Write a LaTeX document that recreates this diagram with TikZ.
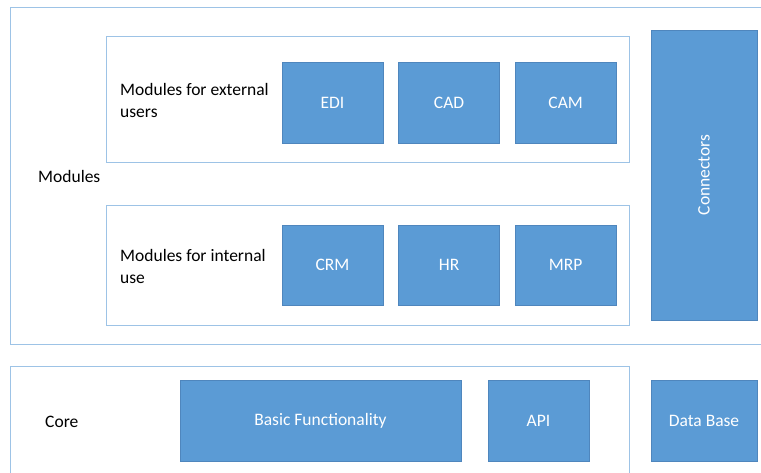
\documentclass[tikz,border=0pt]{standalone}
\usepackage{fontspec}
\setmainfont{Carlito}
\usepackage{xcolor}
\usetikzlibrary{positioning}
\definecolor{fillblue}{HTML}{5B9BD5}
\definecolor{edgeblue}{HTML}{4F86BD}
\definecolor{framelin}{HTML}{9DC3E6}
\tikzset{
  frame/.style={draw=framelin, line width=1pt},
  mod/.style={draw=edgeblue, fill=fillblue, line width=0.6pt, text=white,
    font=\fontsize{17.5}{20}\selectfont, minimum width=101pt, minimum height=81pt, inner sep=0pt},
  lab/.style={text=black, font=\fontsize{17.5}{22}\selectfont, align=left, inner sep=0pt, anchor=west},
}
\begin{document}
\begin{tikzpicture}[x=1pt,y=-1pt]
  \useasboundingbox (0,0) rectangle (761,472);
  \clip (0,0) rectangle (761,472);

  % outer frames, running off the page
  \draw[frame] (10,7) rectangle (800,344);
  \draw[frame] (10,366) rectangle (629,500);
  % module groups
  \draw[frame] (106,36) rectangle (629,162);
  \draw[frame] (106,205) rectangle (629,325);

  \node[lab] (modules) at (38,176) {Modules};
  \node[lab] (extlab) at (120,100) {Modules for external\\users};
  \node[lab] (intlab) at (120,266) {Modules for internal\\use};
  \node[lab] (core) at (45,422) {Core};

  % external modules
  \node[mod] (edi) at (332.5,102.5) {EDI};
  \node[mod, right=15pt of edi] (cad) {CAD};
  \node[mod, right=15pt of cad] (cam) {CAM};
  % internal modules
  \node[mod, minimum height=80pt] (crm) at (332.5,265) {CRM};
  \node[mod, minimum height=80pt, right=15pt of crm] (hr) {HR};
  \node[mod, minimum height=80pt, right=15pt of hr] (mrp) {MRP};

  \node[mod, minimum width=106pt, minimum height=290pt] (conn) at (704,175) {\rotatebox{90}{Connectors}};

  % core row
  \node[mod, minimum width=281pt] (basic) at (320.5,420.5) {Basic Functionality};
  \node[mod] (api) at (538.5,420.5) {API};
  \node[mod, minimum width=106pt] (db) at (704,420.5) {Data Base};
\end{tikzpicture}
\end{document}
